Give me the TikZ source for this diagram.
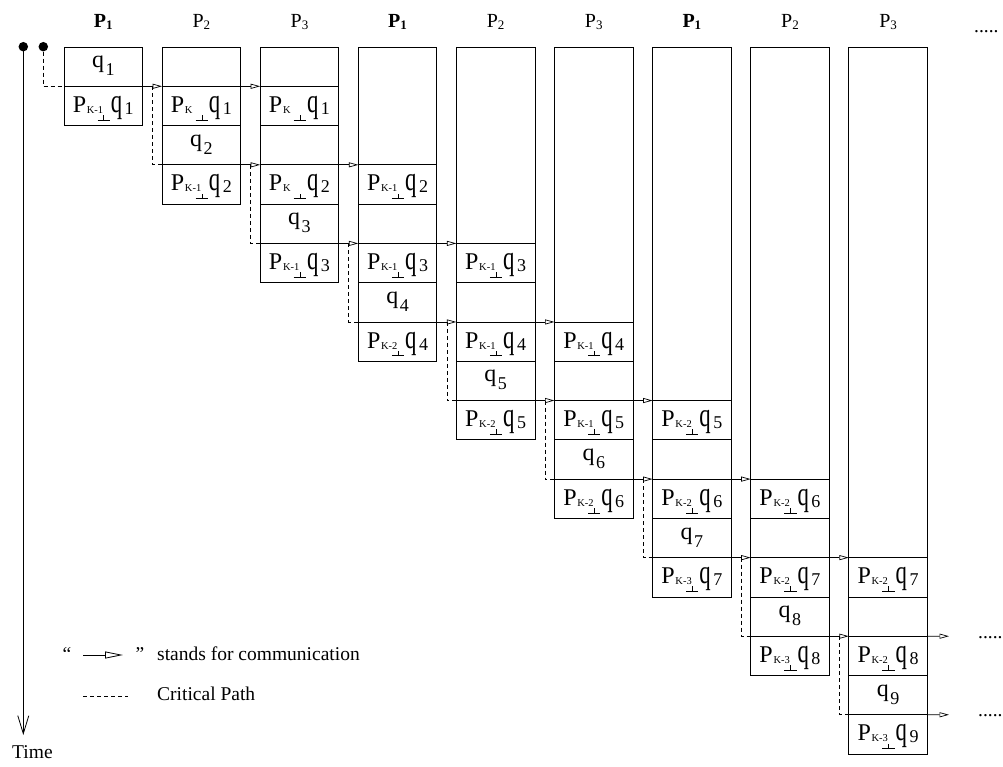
\documentclass[tikz,border=0pt]{standalone}
\usepackage{fontspec}
\setmainfont{Liberation Serif}
\usepackage{graphicx}
\usetikzlibrary{arrows.meta,calc}

\newcommand\fsz[1]{\fontsize{#1pt}{#1pt}\selectfont}
\newcommand\tallq{\scalebox{0.95}[1.4]{q}}
\newcommand\Pq[2]{{\fsz{24}P}\kern0.7pt\rlap{\raisebox{-1pt}{\fsz{10.5}K#1}}\kern10.7pt\rlap{\rule[-8.1pt]{12.3pt}{0.8pt}}\kern5.9pt\rlap{\rule[-8.1pt]{0.8pt}{5.5pt}}\kern7.4pt{\fsz{24}\tallq}\kern2.5pt\raisebox{-2pt}{\fsz{18}#2}}
\newcommand\Qc[1]{{\fsz{24}q}\kern1.5pt\raisebox{-8pt}{\fsz{18}#1}}
\newcommand\Hd[1]{{\fsz{20}P}\raisebox{-2pt}{\fsz{13}#1}}
\newcommand\Cell[4]{\node[#1] (c#2r#3) at ({64+(#2-1)*98.1+39.25},{47+(#3+0.5)*39.28}) {#4};}

\tikzset{
  colbox/.style={draw, line width=0.8pt, minimum width=78.5pt, inner sep=0pt, outer sep=0pt, anchor=north west},
  cellbox/.style={draw, line width=0.8pt, minimum width=78.5pt, minimum height=39.28pt, inner sep=0pt, outer sep=0pt},
  pcell/.style={cellbox, text height=13pt, text depth=0pt},
  qcell/.style={cellbox, text height=2pt, text depth=0pt},
  ecell/.style={cellbox},
  comm/.style={line width=0.8pt, -{Triangle[open, length=9.5pt, width=5pt, line width=0.7pt]}},
  crit/.style={line width=0.8pt, dash pattern=on 4pt off 3pt},
  legarr/.style={line width=0.8pt, -{Triangle[open, length=18pt, width=7pt, line width=0.8pt]}},
  timearr/.style={line width=0.8pt, -{Straight Barb[length=18pt, width=11pt, line width=0.8pt]}},
  legtext/.style={font=\fsz{19.5}, inner sep=0pt},
  hdr/.style={anchor=base, inner sep=0pt},
  dotnode/.style={circle, fill=black, inner sep=0pt, minimum size=9.5pt},
}

\begin{document}
\begin{tikzpicture}[x=1pt, y=-1pt]
\useasboundingbox (0,0) rectangle (1003,767);

% headers
\node[hdr] (h1) at (103.25,28) {\bfseries\Hd{1}};
\node[hdr] (h2) at (201.35,28) {\Hd{2}};
\node[hdr] (h3) at (299.45,28) {\Hd{3}};
\node[hdr] (h4) at (397.55,28) {\bfseries\Hd{1}};
\node[hdr] (h5) at (495.65,28) {\Hd{2}};
\node[hdr] (h6) at (593.75,28) {\Hd{3}};
\node[hdr] (h7) at (691.85,28) {\bfseries\Hd{1}};
\node[hdr] (h8) at (789.95,28) {\Hd{2}};
\node[hdr] (h9) at (888.05,28) {\Hd{3}};
\node[legtext, anchor=base west] (topdots) at (974,33) {.....};

% column outlines
\foreach \c in {1,...,9} {
  \pgfmathsetmacro\lx{64+(\c-1)*98.1}
  \pgfmathsetmacro\hh{2*\c*39.28}
  \node[colbox, minimum height=\hh pt] (col\c) at (\lx,47) {};
}

% cells
\Cell{qcell}{1}{0}{\Qc{1}}
\Cell{pcell}{1}{1}{\Pq{-1}{1}}

\Cell{pcell}{2}{1}{\Pq{}{1}}
\Cell{qcell}{2}{2}{\Qc{2}}
\Cell{pcell}{2}{3}{\Pq{-1}{2}}

\Cell{pcell}{3}{1}{\Pq{}{1}}
\Cell{ecell}{3}{2}{}
\Cell{pcell}{3}{3}{\Pq{}{2}}
\Cell{qcell}{3}{4}{\Qc{3}}
\Cell{pcell}{3}{5}{\Pq{-1}{3}}

\Cell{pcell}{4}{3}{\Pq{-1}{2}}
\Cell{ecell}{4}{4}{}
\Cell{pcell}{4}{5}{\Pq{-1}{3}}
\Cell{qcell}{4}{6}{\Qc{4}}
\Cell{pcell}{4}{7}{\Pq{-2}{4}}

\Cell{pcell}{5}{5}{\Pq{-1}{3}}
\Cell{ecell}{5}{6}{}
\Cell{pcell}{5}{7}{\Pq{-1}{4}}
\Cell{qcell}{5}{8}{\Qc{5}}
\Cell{pcell}{5}{9}{\Pq{-2}{5}}

\Cell{pcell}{6}{7}{\Pq{-1}{4}}
\Cell{ecell}{6}{8}{}
\Cell{pcell}{6}{9}{\Pq{-1}{5}}
\Cell{qcell}{6}{10}{\Qc{6}}
\Cell{pcell}{6}{11}{\Pq{-2}{6}}

\Cell{pcell}{7}{9}{\Pq{-2}{5}}
\Cell{ecell}{7}{10}{}
\Cell{pcell}{7}{11}{\Pq{-2}{6}}
\Cell{qcell}{7}{12}{\Qc{7}}
\Cell{pcell}{7}{13}{\Pq{-3}{7}}

\Cell{pcell}{8}{11}{\Pq{-2}{6}}
\Cell{ecell}{8}{12}{}
\Cell{pcell}{8}{13}{\Pq{-2}{7}}
\Cell{qcell}{8}{14}{\Qc{8}}
\Cell{pcell}{8}{15}{\Pq{-3}{8}}

\Cell{pcell}{9}{13}{\Pq{-2}{7}}
\Cell{ecell}{9}{14}{}
\Cell{pcell}{9}{15}{\Pq{-2}{8}}
\Cell{qcell}{9}{16}{\Qc{9}}
\Cell{pcell}{9}{17}{\Pq{-3}{9}}

% communication arrows
\coordinate (out15) at (949,636.2);
\coordinate (out17) at (949,714.76);
\draw[comm] (c1r1.north east) -- (c2r1.north west);
\draw[comm] (c2r1.north east) -- (c3r1.north west);
\draw[comm] (c2r3.north east) -- (c3r3.north west);
\draw[comm] (c3r3.north east) -- (c4r3.north west);
\draw[comm] (c3r5.north east) -- (c4r5.north west);
\draw[comm] (c4r5.north east) -- (c5r5.north west);
\draw[comm] (c4r7.north east) -- (c5r7.north west);
\draw[comm] (c5r7.north east) -- (c6r7.north west);
\draw[comm] (c5r9.north east) -- (c6r9.north west);
\draw[comm] (c6r9.north east) -- (c7r9.north west);
\draw[comm] (c6r11.north east) -- (c7r11.north west);
\draw[comm] (c7r11.north east) -- (c8r11.north west);
\draw[comm] (c7r13.north east) -- (c8r13.north west);
\draw[comm] (c8r13.north east) -- (c9r13.north west);
\draw[comm] (c8r15.north east) -- (c9r15.north west);
\draw[comm] (c9r15.north east) -- (out15);
\draw[comm] (c9r17.north east) -- (out17);
\node[legtext, anchor=base west] (dots15) at (978,638) {.....};
\node[legtext, anchor=base west] (dots17) at (978,716.5) {.....};

% start dots and time axis
\node[dotnode] (d1) at (23.3,46.7) {};
\node[dotnode] (d2) at (43.3,46.7) {};
\coordinate (tend) at (23.3,735);
\draw[timearr] (d1.center) -- (tend);
\node[legtext, anchor=base west] (time) at (12,758) {Time};

% critical path
\draw[crit] (d2.south) |- (c1r1.north west);
\draw[crit] ([xshift=-9.5pt]c2r1.north west) |- (c2r3.north west);
\draw[crit] ([xshift=-9.5pt]c3r3.north west) |- (c3r5.north west);
\draw[crit] ([xshift=-9.5pt]c4r5.north west) |- (c4r7.north west);
\draw[crit] ([xshift=-9.5pt]c5r7.north west) |- (c5r9.north west);
\draw[crit] ([xshift=-9.5pt]c6r9.north west) |- (c6r11.north west);
\draw[crit] ([xshift=-9.5pt]c7r11.north west) |- (c7r13.north west);
\draw[crit] ([xshift=-9.5pt]c8r13.north west) |- (c8r15.north west);
\draw[crit] ([xshift=-9.5pt]c9r15.north west) |- (c9r17.north west);

% legend
\node[legtext, anchor=base] (lq1) at (67,660) {\textquotedblleft};
\coordinate (la1) at (83,655);
\coordinate (la2) at (123,655);
\draw[legarr] (la1) -- (la2);
\node[legtext, anchor=base] (lq2) at (140,660) {\textquotedblright};
\node[legtext, anchor=base west] (lt1) at (157,660) {stands for communication};
\coordinate (lc1) at (83,696);
\coordinate (lc2) at (128,696);
\draw[crit] (lc1) -- (lc2);
\node[legtext, anchor=base west] (lt2) at (157,700) {Critical Path};
\end{tikzpicture}
\end{document}
